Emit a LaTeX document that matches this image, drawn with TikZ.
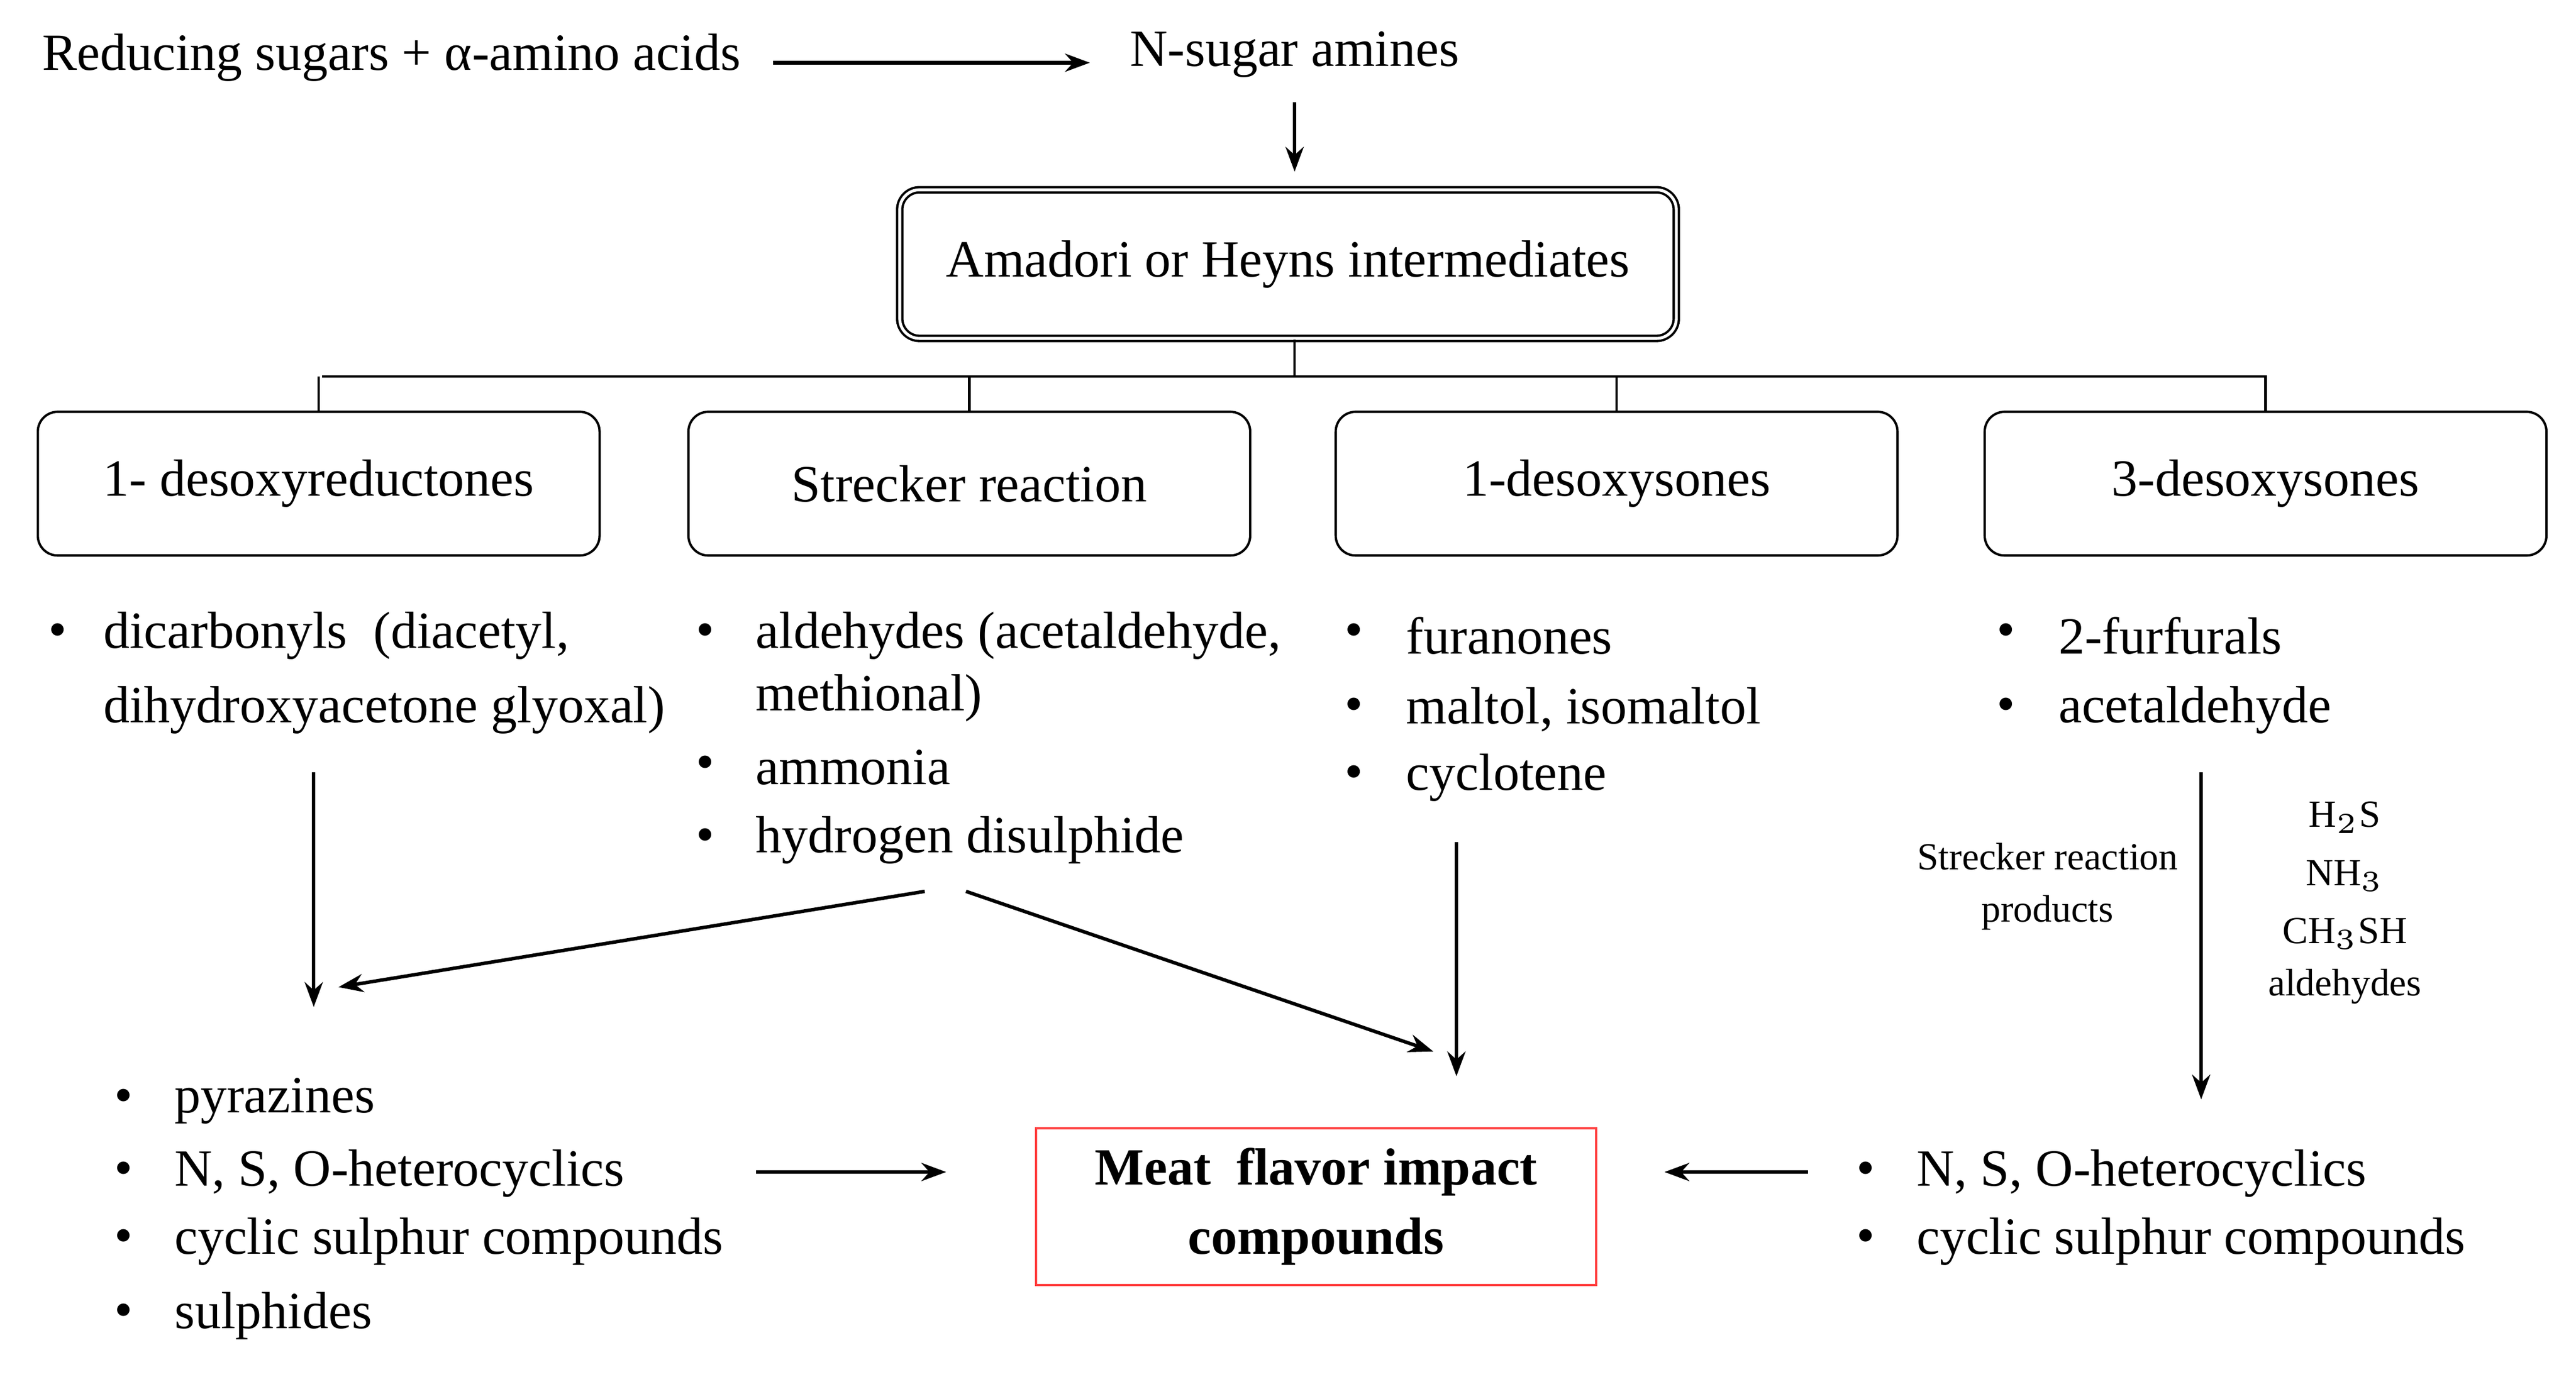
\documentclass[tikz,border=0pt]{standalone}
\usepackage{fontspec}
\setmainfont{Liberation Serif}
\usetikzlibrary{arrows.meta}
\begin{document}
\begin{tikzpicture}[x=0.01cm, y=-0.01cm, font=\fontsize{9}{10}\selectfont,
    stage/.style = {draw, rounded corners=1.2mm, line width=0.4pt, minimum height=0.87cm, minimum width=3.4cm},
    item/.style = {anchor=west, inner sep=0pt},
    dot/.style = {inner sep=0pt},
    note/.style = {font=\fontsize{6.6}{9}\selectfont, align=center},
    flow/.style = {-{Stealth[length=1.5mm, width=1.1mm]}, line width=0.6pt}]
\useasboundingbox (0,0) rectangle (1560,834);
% top row
\node (sugars) at (237,35) {Reducing sugars + α-amino acids};
\node (amines) at (784,33) {N-sugar amines};
\coordinate (s1) at (468,38); \coordinate (s2) at (660,38);
\draw[flow] (s1) -- (s2);
\coordinate (a1) at (784,62); \coordinate (a2) at (784,104);
\draw[flow] (a1) -- (a2);
\node[stage, double, double distance=0.5pt, minimum width=4.7cm, minimum height=0.9cm] (amadori) at (780,160) {Amadori or Heyns intermediates};
% tree
\coordinate (t0) at (784,228);
\draw (amadori.south -| t0) -- (t0);
\draw (195,228) -- (1373,228);
\node[stage] (red) at (193,293) {1- desoxyreductones};
\node[stage] (str) at (587,293) {Strecker reaction};
\node[stage] (one) at (979,293) {1-desoxysones};
\node[stage] (three) at (1372,293) {3-desoxysones};
\foreach \b in {red,str,one,three} \draw (\b.north |- t0) -- (\b.north);
% lists
\foreach \x/\y/\t in {62/385/{dicarbonyls\ \ (diacetyl,}, 62/430/{dihydroxyacetone glyoxal)},
    457/385/{aldehydes (acetaldehyde,}, 457/423/{methional)}, 457/465/{ammonia}, 457/509/{hydrogen disulphide},
    851/385/{furanones}, 851/430/{maltol, isomaltol}, 851/471/{cyclotene},
    1246/385/{2-furfurals}, 1246/430/{acetaldehyde},
    105/667/{pyrazines}, 105/711/{N, S, O-heterocyclics}, 105/752/{cyclic sulphur compounds}, 105/797/{sulphides},
    1160/711/{N, S, O-heterocyclics}, 1160/752/{cyclic sulphur compounds}}
  \node[item] at (\x,\y) {\t};
\foreach \x/\y in {35/385, 427/385, 427/465, 427/509, 820/385, 820/430, 820/471, 1215/385, 1215/430,
    75/667, 75/711, 75/752, 75/797, 1130/711, 1130/752}
  \node[dot] at (\x,\y) {\textbullet};
% notes
\node[note] (prod) at (1240,537) {Strecker reaction\\products};
\node[note] (reag) at (1420,547) {H$_2$S\\[1pt]NH$_3$\\[1pt]CH$_3$SH\\aldehydes};
% target
\node[draw=red!75, line width=0.4pt, minimum width=3.39cm, minimum height=0.94cm, align=center, font=\fontsize{9}{12}\selectfont\bfseries] (meat) at (797,731) {Meat\ \ flavor impact\\compounds};
% arrows
\coordinate (p1) at (190,468); \coordinate (p2) at (190,610);
\coordinate (q0) at (560,540); \coordinate (q1) at (205,598);
\coordinate (q2) at (585,540); \coordinate (q3) at (868,637);
\coordinate (c1) at (882,510); \coordinate (c2) at (882,652);
\coordinate (f1) at (1333,468); \coordinate (f2) at (1333,666);
\coordinate (l1) at (458,710); \coordinate (l2) at (573,710);
\coordinate (r1) at (1095,710); \coordinate (r2) at (1008,710);
\draw[flow] (p1) -- (p2);
\draw[flow] (q0) -- (q1);
\draw[flow] (q2) -- (q3);
\draw[flow] (c1) -- (c2);
\draw[flow] (f1) -- (f2);
\draw[flow] (l1) -- (l2);
\draw[flow] (r1) -- (r2);
\end{tikzpicture}
\end{document}
